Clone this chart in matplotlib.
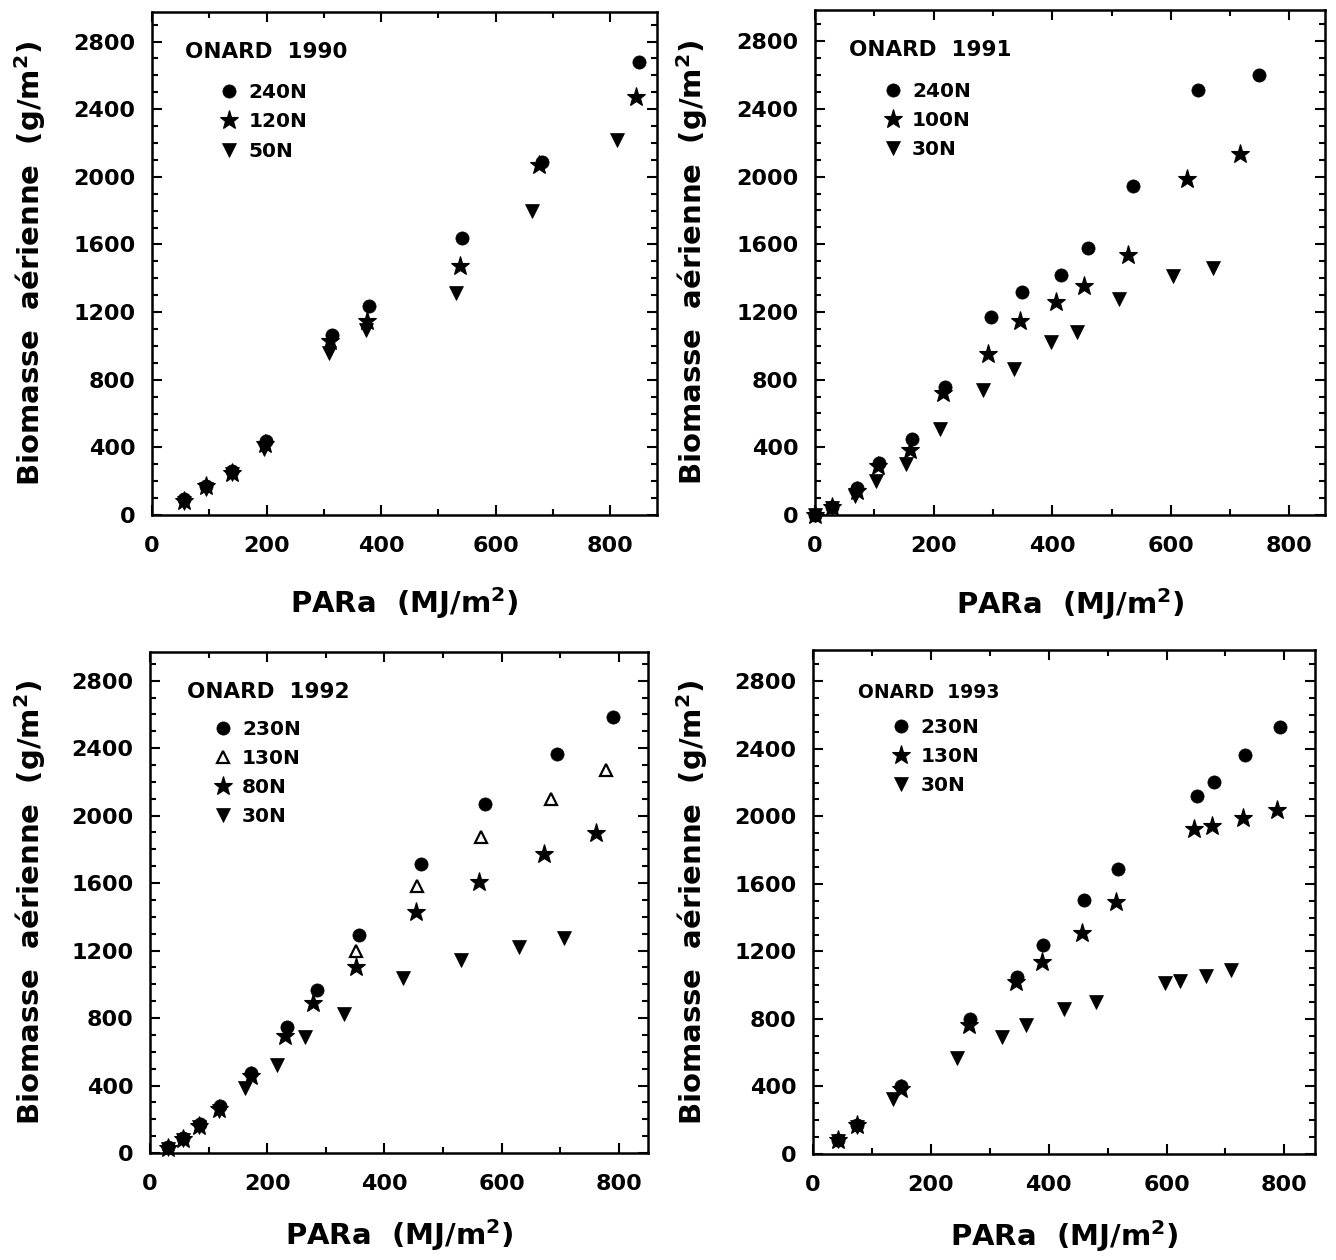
import matplotlib
matplotlib.use("Agg")
import matplotlib.pyplot as plt
from matplotlib.ticker import MultipleLocator
from matplotlib.lines import Line2D

plt.rcParams['font.family'] = ['DejaVu Sans']
plt.rcParams['font.weight'] = 'bold'
plt.rcParams['mathtext.default'] = 'bf'

# ---------------- data (PARa MJ/m2, biomass g/m2) ----------------
# ONARD 1990
p90_240_x = [56, 94, 140, 199, 315, 379, 542, 682, 851]
p90_240_y = [94, 173, 261, 438, 1062, 1239, 1638, 2090, 2677]
p90_120_x = [56, 94, 140, 197, 311, 376, 538, 676, 845]
p90_120_y = [85, 169, 251, 419, 1028, 1146, 1475, 2071, 2470]
p90_50_x = [56, 94, 140, 196, 310, 373, 531, 663, 813]
p90_50_y = [72, 155, 240, 389, 960, 1093, 1314, 1796, 2218]

# ONARD 1991
p91_240_x = [0, 29, 70, 108, 163, 219, 296, 349, 414, 461, 537, 645, 748]
p91_240_y = [0, 49, 158, 306, 448, 759, 1170, 1316, 1416, 1578, 1943, 2515, 2600]
p91_100_x = [0, 29, 70, 107, 160, 215, 291, 345, 407, 453, 528, 627, 716]
p91_100_y = [0, 49, 144, 290, 385, 720, 951, 1144, 1258, 1355, 1534, 1986, 2136]
p91_30_x = [0, 29, 67, 103, 154, 211, 284, 336, 398, 442, 513, 603, 671]
p91_30_y = [0, 40, 112, 203, 302, 509, 740, 864, 1022, 1079, 1276, 1410, 1460]

# ONARD 1992
p92_230_x = [30, 56, 85, 119, 173, 233, 285, 356, 462, 572, 694, 791]
p92_230_y = [34, 90, 173, 281, 475, 746, 969, 1293, 1714, 2069, 2366, 2587]
p92_130_x = [351, 456, 565, 684, 779]
p92_130_y = [1200, 1581, 1871, 2099, 2273]
p92_80_x = [30, 56, 84, 117, 172, 230, 279, 351, 454, 561, 673, 762]
p92_80_y = [28, 83, 160, 262, 455, 692, 890, 1101, 1431, 1605, 1773, 1897]
p92_30_x = [30, 56, 84, 117, 162, 217, 265, 331, 432, 530, 630, 706]
p92_30_y = [25, 78, 155, 250, 384, 523, 686, 825, 1036, 1147, 1220, 1273]

# ONARD 1993
p93_230_x = [43, 75, 150, 267, 347, 391, 460, 518, 651, 681, 734, 793]
p93_230_y = [80, 169, 400, 800, 1050, 1237, 1503, 1690, 2120, 2203, 2366, 2530]
p93_130_x = [43, 75, 149, 264, 345, 388, 457, 515, 647, 677, 729, 787]
p93_130_y = [80, 169, 386, 764, 1017, 1135, 1306, 1490, 1927, 1943, 1992, 2035]
p93_30_x = [43, 75, 136, 245, 320, 362, 426, 480, 598, 623, 667, 710]
p93_30_y = [75, 160, 327, 569, 695, 764, 859, 902, 1011, 1026, 1056, 1089]

x_ticks = [0, 200, 400, 600, 800]
y_ticks = [0, 400, 800, 1200, 1600, 2000, 2400, 2800]

STYLES = {
    'circle': dict(marker='o', ms=9.5, mfc='black', mec='black', mew=0.5),
    'star': dict(marker='*', ms=14, mfc='black', mec='black', mew=0.8),
    'tri_down': dict(marker='v', ms=10, mfc='black', mec='black', mew=0.5),
    'tri_open': dict(marker='^', ms=9, mfc='white', mec='black', mew=1.6),
}

panels = [
    dict(rect=[152/1336, 1-515/1260, 505/1336, 503/1260], xlim=(0, 882), ylim=(0, 2975),
         title='ONARD  1990', tsize=15.5, tpos=(0.065, 0.92), lpos=(0.135, 0.858), xl=-0.14,
         series=[('240N', p90_240_x, p90_240_y, 'circle'),
                 ('120N', p90_120_x, p90_120_y, 'star'),
                 ('50N', p90_50_x, p90_50_y, 'tri_down')],
         order=[2, 1, 0]),
    dict(rect=[815/1336, 1-515/1260, 510/1336, 505/1260], xlim=(0, 860), ylim=(0, 2985),
         title='ONARD  1991', tsize=15.5, tpos=(0.067, 0.92), lpos=(0.135, 0.857), xl=-0.14,
         series=[('240N', p91_240_x, p91_240_y, 'circle'),
                 ('100N', p91_100_x, p91_100_y, 'star'),
                 ('30N', p91_30_x, p91_30_y, 'tri_down')],
         order=[2, 1, 0]),
    dict(rect=[150/1336, 1-1153/1260, 498/1336, 501/1260], xlim=(0, 850), ylim=(0, 2970),
         title='ONARD  1992', tsize=15.5, tpos=(0.074, 0.92), lpos=(0.128, 0.865), xl=-0.128,
         series=[('230N', p92_230_x, p92_230_y, 'circle'),
                 ('130N', p92_130_x, p92_130_y, 'tri_open'),
                 ('80N', p92_80_x, p92_80_y, 'star'),
                 ('30N', p92_30_x, p92_30_y, 'tri_down')],
         order=[3, 2, 0, 1]),
    dict(rect=[813/1336, 1-1154/1260, 502/1336, 504/1260], xlim=(0, 852), ylim=(0, 2985),
         title='ONARD  1993', tsize=13.5, tpos=(0.09, 0.915), lpos=(0.158, 0.865), xl=-0.128,
         series=[('230N', p93_230_x, p93_230_y, 'circle'),
                 ('130N', p93_130_x, p93_130_y, 'star'),
                 ('30N', p93_30_x, p93_30_y, 'tri_down')],
         order=[2, 1, 0]),
]

fig = plt.figure(figsize=(13.36, 12.6), dpi=100)

for p in panels:
    ax = fig.add_axes(p['rect'])
    for idx in p['order']:
        lab, xs, ys, st = p['series'][idx]
        ax.plot(xs, ys, linestyle='none', zorder=3 + idx * 0.1, clip_on=False, **STYLES[st])
    ax.set_xlim(*p['xlim'])
    ax.set_ylim(*p['ylim'])
    ax.set_xticks(x_ticks)
    ax.set_yticks(y_ticks)
    ax.xaxis.set_minor_locator(MultipleLocator(100))
    ax.yaxis.set_minor_locator(MultipleLocator(100))
    ax.tick_params(which='both', direction='in', top=True, right=True, width=1.5, colors='black')
    ax.tick_params(which='major', length=7)
    ax.tick_params(which='minor', length=4)
    ax.tick_params(axis='x', which='major', pad=15, labelsize=16)
    ax.tick_params(axis='y', which='major', pad=12, labelsize=16)
    for lbl in ax.get_xticklabels() + ax.get_yticklabels():
        lbl.set_fontweight('bold')
    for s in ax.spines.values():
        s.set_linewidth(1.8)
    ax.set_xlabel('PARa  (MJ/m$^2$)', fontsize=21, fontweight='bold')
    ax.set_ylabel('Biomasse  a\u00e9rienne  (g/m$^2$)', fontsize=21, fontweight='bold')
    ax.xaxis.set_label_coords(0.5, p['xl'])
    ax.yaxis.set_label_coords(-0.205, 0.5)
    ax.text(p['tpos'][0], p['tpos'][1], p['title'], transform=ax.transAxes,
            fontsize=p['tsize'], fontweight='bold', ha='left', va='center')
    handles = [Line2D([], [], linestyle='none', **STYLES[st]) for (_, _, _, st) in p['series']]
    labels = [s[0] for s in p['series']]
    ax.legend(handles, labels, loc='upper left', bbox_to_anchor=p['lpos'],
              frameon=False, borderpad=0, borderaxespad=0, handlelength=0.9,
              handletextpad=0.5, labelspacing=0.5,
              prop=dict(weight='bold', size=14.5))

fig.savefig('out.png', dpi=100, facecolor='white')
